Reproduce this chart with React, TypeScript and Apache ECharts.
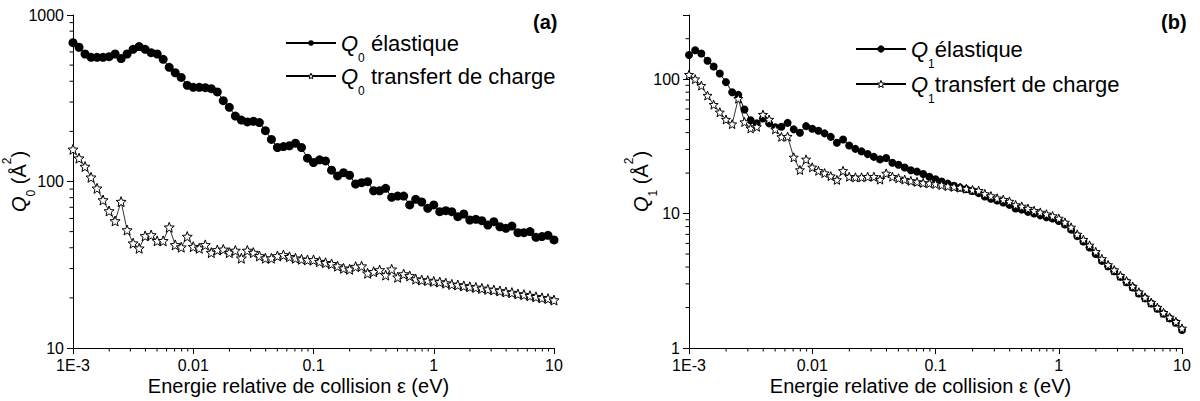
import React, { useEffect, useRef } from 'react';
import * as echarts from 'echarts';

// ---- data ----
const MANTISSAS = [1, 1.122, 1.259, 1.413, 1.585, 1.778, 1.995, 2.239, 2.512, 2.818, 3.162, 3.548, 3.981, 4.467, 5.012, 5.623, 6.31, 7.079, 7.943, 8.913];
const DECADE_STARTS = [0.001, 0.01, 0.1, 1];
const LAST_ENERGY = 10;
const ENERGY: number[] = [
  ...DECADE_STARTS.flatMap((d) => MANTISSAS.map((m) => +(d * m).toPrecision(4))),
  LAST_ENERGY,
];

const Q0_ELASTIC = [
  682, 640, 583, 557, 557, 557, 562, 583, 547, 583,
  622, 646, 622, 594, 583, 542, 485, 450, 422, 378,
  368, 368, 366, 361, 345, 306, 279, 247, 234, 228,
  230, 226, 202, 179, 160, 162, 164, 170, 160, 138,
  130, 135, 133, 117, 108, 113, 109, 96.6, 98.4, 99.7,
  88, 88, 91, 80.4, 81.8, 81.8, 72.3, 78.2, 75.3, 69,
  72.3, 65.9, 66.8, 65.9, 61.5, 63.8, 58.7, 59.3, 58.2, 54.8,
  57.4, 53.5, 52.3, 54.0, 49.3, 49.3, 50.0, 46.2, 46.7, 47.5,
  44.6,
];
const Q0_TRANSFER = [
  156, 138, 123, 106, 91, 77.4, 66.5, 57.9, 75.7, 51.1,
  42.6, 39.7, 47.1, 47.7, 44, 44, 53.1, 41.6, 40.3, 46.7,
  40.6, 39.7, 41.6, 37.4, 38.8, 39.1, 37.4, 38.5, 34.6, 38.5,
  37.4, 35.7, 34.6, 34.6, 35.7, 36.2, 35.3, 34.6, 34.1, 33.8,
  33.8, 33.0, 32.5, 32.0, 31.0, 30.1, 29.7, 30.8, 31.0, 28.1,
  28.7, 29.4, 27.4, 29.7, 26.6, 27.8, 27.1, 25.9, 25.6, 25.4,
  25.1, 24.9, 24.5, 24.1, 23.9, 23.6, 23.3, 23.1, 22.8, 22.5,
  22.3, 22.0, 21.7, 21.5, 21.1, 20.9, 20.6, 20.3, 20.0, 19.8,
  19.4,
];
const Q1_ELASTIC = [
  151, 164, 155, 137, 124, 110, 95, 80, 76.4, 59.5,
  49.5, 46.9, 51.0, 46.9, 43.8, 44.2, 47.3, 42.3, 39.9, 44.7,
  42.7, 41.3, 39.5, 37.2, 33.6, 35.6, 32.1, 30.3, 29.0, 27.7,
  26.4, 25.3, 25.9, 23.9, 23.1, 22.0, 21.0, 20.5, 19.7, 18.8,
  18.0, 17.3, 16.7, 16.1, 15.6, 15.2, 14.7, 14.2, 13.4, 12.9,
  12.5, 12.1, 11.6, 10.9, 10.7, 10.3, 10.0, 9.7, 9.4, 9.2,
  8.8, 8.3, 7.6, 6.8, 6.2, 5.6, 5.0, 4.45, 4.05, 3.72,
  3.38, 3.08, 2.82, 2.54, 2.34, 2.14, 1.96, 1.80, 1.66, 1.54,
  1.36,
];
const Q1_TRANSFER = [
  108, 100, 89.5, 75.5, 64.6, 56.7, 50.1, 46.3, 71.6, 48,
  43, 44.2, 54.5, 50.1, 42.3, 37.2, 37.4, 26.2, 21.1, 25.3,
  22.1, 20.8, 20.0, 19.0, 17.8, 20.8, 18.8, 18.6, 18.6, 18.8,
  18.8, 17.9, 19.9, 18.8, 18.3, 17.9, 17.5, 17.2, 16.9, 16.8,
  16.6, 16.3, 16.0, 15.8, 15.6, 15.3, 15.0, 14.8, 14.0, 13.5,
  13.0, 12.7, 12.3, 11.6, 11.3, 10.9, 10.5, 10.2, 9.9, 9.6,
  9.2, 8.6, 7.9, 7.0, 6.4, 5.8, 5.2, 4.6, 4.15, 3.8,
  3.45, 3.15, 2.87, 2.6, 2.38, 2.18, 2.0, 1.83, 1.69, 1.57,
  1.40,
];

const X_TICK_LABELS: Record<string, string> = { '-3': '1E-3', '-2': '0.01', '-1': '0.1', '0': '1', '1': '10' };
const X_RANGE = [0.001, 10];
const Y0_RANGE = [10, 1000];
const Y1_RANGE = [1, 300];

const NAMES = {
  q0e: 'Q0 élastique',
  q0t: 'Q0 transfert de charge',
  q1e: 'Q1 élastique',
  q1t: 'Q1 transfert de charge',
};
const LEGEND_LABELS: Record<string, string> = {
  [NAMES.q0e]: '{q|Q}{s|0}{t| élastique}',
  [NAMES.q0t]: '{q|Q}{s|0}{t| transfert de charge}',
  [NAMES.q1e]: '{q|Q}{s|1}{t|élastique}',
  [NAMES.q1t]: '{q|Q}{s|1}{t|transfert de charge}',
};

const FONT = "'Liberation Sans', Arial, Helvetica, sans-serif";
const STAR = 'path://M12,1 L14.9,8.6 L23,9 L16.7,14.2 L18.8,22 L12,17.6 L5.2,22 L7.3,14.2 L1,9 L9.1,8.6 Z';

function minorValues(lo: number, hi: number): number[] {
  const out: number[] = [];
  for (let e = Math.floor(Math.log10(lo)); e <= Math.ceil(Math.log10(hi)); e++) {
    for (let m = 2; m <= 9; m++) {
      const v = +(m * Math.pow(10, e)).toPrecision(3);
      if (v > lo && v < hi) out.push(v);
    }
  }
  return out;
}

function minorTickSeries(idx: number, axis: 'x' | 'y', values: number[], other: number) {
  return {
    type: 'custom',
    xAxisIndex: idx,
    yAxisIndex: idx,
    silent: true,
    clip: false,
    z: 5,
    data: values.map((v) => (axis === 'x' ? [v, other] : [other, v])),
    renderItem: (_p: any, api: any) => {
      const p = api.coord([api.value(0), api.value(1)]);
      const shape = axis === 'x'
        ? { x1: p[0], y1: p[1], x2: p[0], y2: p[1] + 3.5 }
        : { x1: p[0], y1: p[1], x2: p[0] - 3.5, y2: p[1] };
      return { type: 'line', shape, style: { stroke: '#000', lineWidth: 1 } };
    },
  };
}

const axisText = { color: '#000', fontFamily: FONT, fontSize: 16 };

function xAxis(idx: number) {
  return {
    type: 'log',
    logBase: 10,
    gridIndex: idx,
    min: X_RANGE[0],
    max: X_RANGE[1],
    axisLine: { show: true, onZero: false, lineStyle: { color: '#000', width: 1 } },
    axisTick: { show: true, length: 6, lineStyle: { color: '#000', width: 1 } },
    axisLabel: {
      ...axisText,
      margin: 9,
      formatter: (v: number) => X_TICK_LABELS[String(Math.round(Math.log10(v)))] ?? '',
    },
    splitLine: { show: false },
    name: 'Energie relative de collision ε (eV)',
    nameLocation: 'middle',
    nameGap: 28,
    nameMoveOverlap: false,
    nameTextStyle: { color: '#000', fontFamily: FONT, fontSize: 20, padding: [0, 30, 0, 0] },
  };
}

function yAxis(idx: number, range: number[], sub: string, gap: number) {
  return {
    type: 'log',
    logBase: 10,
    gridIndex: idx,
    min: range[0],
    max: range[1],
    axisLine: { show: true, onZero: false, lineStyle: { color: '#000', width: 1 } },
    axisTick: { show: true, length: 6, lineStyle: { color: '#000', width: 1 } },
    axisLabel: {
      ...axisText,
      margin: 9,
      formatter: (v: number) => {
        const e = Math.log10(v);
        return Math.abs(e - Math.round(e)) < 1e-6 ? String(Math.round(v)) : '';
      },
    },
    splitLine: { show: false },
    name: `{q|Q}{s|${sub}}{t| (Å}{p|2}{t|)}`,
    nameLocation: 'middle',
    nameGap: gap,
    nameMoveOverlap: false,
    nameTextStyle: {
      color: '#000',
      fontFamily: FONT,
      fontSize: 20,
      rich: {
        q: { fontFamily: FONT, fontSize: 20, fontStyle: 'italic', color: '#000', lineHeight: 22 },
        t: { fontFamily: FONT, fontSize: 20, color: '#000', lineHeight: 22 },
        s: { fontFamily: FONT, fontSize: 12, color: '#000', verticalAlign: 'bottom', padding: [24, 0, 0, 0] },
        p: { fontFamily: FONT, fontSize: 12, color: '#000', verticalAlign: 'top', padding: [0, 0, 22, 0] },
      },
    },
  };
}

function legend(names: string[], left: number, top: number, gap: number, ih: number) {
  return {
    data: names.map((n, i) => (i === 1
      ? { name: n, itemStyle: { color: '#fff', borderColor: '#000', borderWidth: 1 } }
      : { name: n })),
    left,
    top,
    orient: 'vertical',
    itemWidth: 50,
    itemHeight: ih,
    itemGap: gap,
    formatter: (n: string) => LEGEND_LABELS[n],
    textStyle: {
      color: '#000',
      fontFamily: FONT,
      fontSize: 22,
      rich: {
        q: { fontFamily: FONT, fontSize: 22, fontStyle: 'italic', color: '#000', lineHeight: 24 },
        t: { fontFamily: FONT, fontSize: 22, color: '#000', lineHeight: 24 },
        s: { fontFamily: FONT, fontSize: 12, color: '#000', verticalAlign: 'bottom', padding: [30, 0, 0, 0] },
      },
    },
  };
}

function dotSeries(name: string, idx: number, ys: number[], size: number) {
  return {
    type: 'line',
    name,
    xAxisIndex: idx,
    yAxisIndex: idx,
    data: ENERGY.map((x, i) => [x, ys[i]]),
    symbol: 'circle',
    symbolSize: size,
    showSymbol: true,
    itemStyle: { color: '#000' },
    lineStyle: { color: '#000', width: 1 },
    z: 3,
  };
}

function starSeries(name: string, idx: number, ys: number[], size: number) {
  return {
    type: 'line',
    name,
    xAxisIndex: idx,
    yAxisIndex: idx,
    data: ENERGY.map((x, i) => [x, ys[i]]),
    symbol: STAR,
    symbolSize: size,
    showSymbol: true,
    itemStyle: { color: '#fff', borderColor: '#000', borderWidth: 1 },
    lineStyle: { color: '#000', width: 0.8 },
    z: 4,
  };
}

export default function App() {
  const ref = useRef<HTMLDivElement>(null);
  useEffect(() => {
    if (!ref.current) return;
    const chart = echarts.init(ref.current, undefined, { renderer: 'svg' });
    const xMinor = minorValues(X_RANGE[0], X_RANGE[1]);
    chart.setOption({
      animation: false,
      backgroundColor: '#fff',
      grid: [
        { left: 73, top: 15, width: 481, height: 333, containLabel: false },
        { left: 689, top: 15, width: 493, height: 333, containLabel: false },
      ],
      xAxis: [xAxis(0), xAxis(1)],
      yAxis: [yAxis(0, Y0_RANGE, '0', 36), yAxis(1, Y1_RANGE, '1', 30)],
      legend: [
        legend([NAMES.q0e, NAMES.q0t], 280, 27, 1, 7),
        legend([NAMES.q1e, NAMES.q1t], 850, 33, 3, 9),
      ],
      graphic: [
        { type: 'text', left: 533, top: 12, style: { text: '(a)', font: `bold 20px ${FONT}`, fill: '#000' } },
        { type: 'text', left: 1161, top: 12, style: { text: '(b)', font: `bold 20px ${FONT}`, fill: '#000' } },
      ],
      series: [
        dotSeries(NAMES.q0e, 0, Q0_ELASTIC, 9),
        starSeries(NAMES.q0t, 0, Q0_TRANSFER, 10),
        dotSeries(NAMES.q1e, 1, Q1_ELASTIC, 8),
        starSeries(NAMES.q1t, 1, Q1_TRANSFER, 9),
        minorTickSeries(0, 'x', xMinor, Y0_RANGE[0]),
        minorTickSeries(1, 'x', xMinor, Y1_RANGE[0]),
        minorTickSeries(0, 'y', minorValues(Y0_RANGE[0], Y0_RANGE[1]), X_RANGE[0]),
        minorTickSeries(1, 'y', minorValues(Y1_RANGE[0], Y1_RANGE[1]), X_RANGE[0]),
      ],
    });
    return () => chart.dispose();
  }, []);
  return <div ref={ref} style={{ position: 'fixed', left: 0, top: 0, width: 1200, height: 401 }} />;
}
